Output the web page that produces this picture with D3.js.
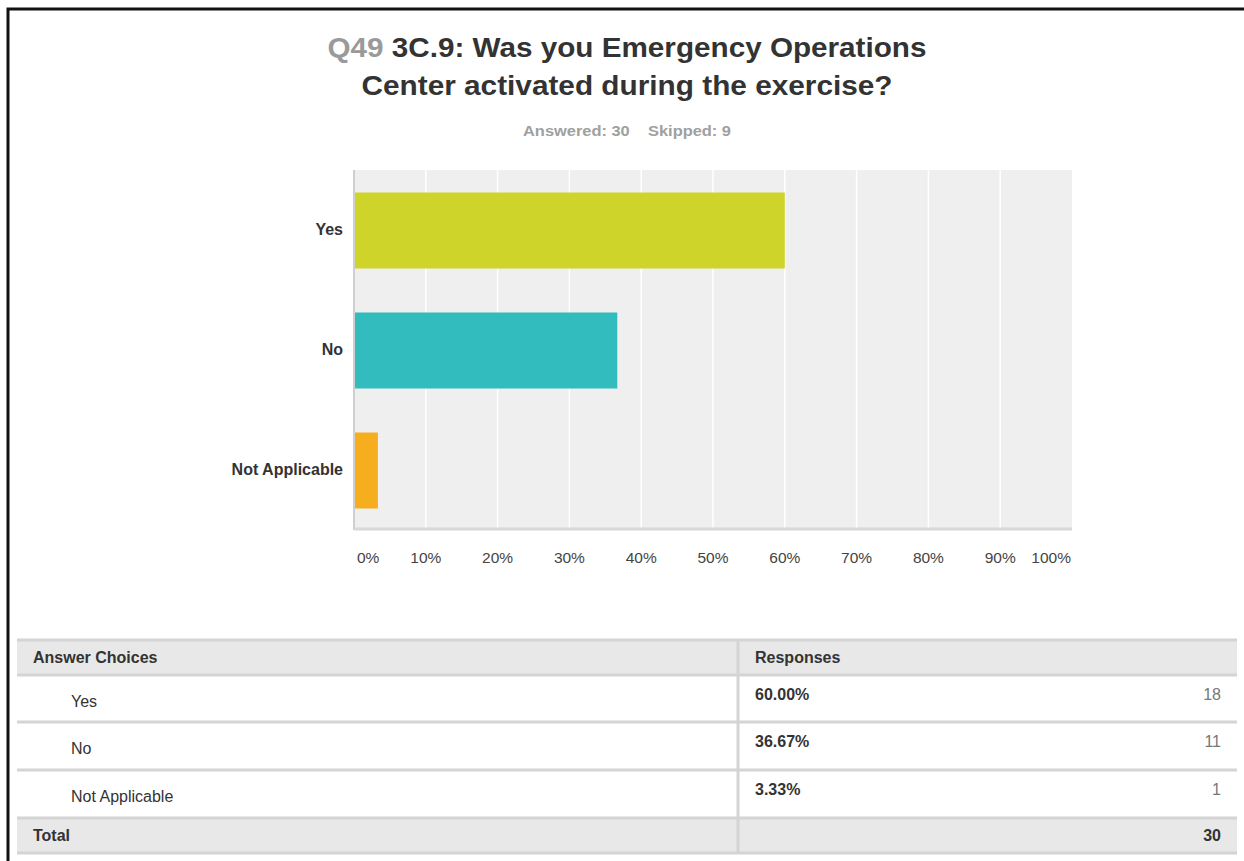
<!DOCTYPE html>
<html>
<head>
<meta charset="utf-8">
<script src="https://cdn.jsdelivr.net/npm/d3@7"></script>
<style>
  html, body { margin: 0; padding: 0; background: #fff; }
  svg { display: block; font-family: "Liberation Sans", Arial, sans-serif; }
</style>
</head>
<body>
<svg id="chart" width="1244" height="861"></svg>
<script>
const categories = ["Yes", "No", "Not Applicable"];
const percents = [60.00, 36.67, 3.33];
const counts = [18, 11, 1];
const colors = ["#cfd42a", "#32bcbe", "#f7ae1e"];
const tickValues = [0, 10, 20, 30, 40, 50, 60, 70, 80, 90, 100];
const titleQ = "Q49";
const titleLine1 = "3C.9: Was you Emergency Operations";
const titleLine2 = "Center activated during the exercise?";
const answered = 30, skipped = 9;

const svg = d3.select("#chart");

// page frame (top + left edges)
svg.append("path")
  .attr("d", "M8,861 L8,9 L1244,9")
  .attr("fill", "none").attr("stroke", "#111").attr("stroke-width", 3);

// title
const cx = 627;
const t1 = svg.append("text").attr("x", cx).attr("y", 57)
  .attr("text-anchor", "middle").attr("font-size", 27).attr("font-weight", "bold").attr("fill", "#333")
  .attr("textLength", 599).attr("lengthAdjust", "spacingAndGlyphs");
t1.append("tspan").attr("fill", "#9a9a9a").text(titleQ + " ");
t1.append("tspan").text(titleLine1);
svg.append("text").attr("x", cx).attr("y", 95)
  .attr("text-anchor", "middle").attr("font-size", 27).attr("font-weight", "bold").attr("fill", "#333")
  .attr("textLength", 531).attr("lengthAdjust", "spacingAndGlyphs")
  .text(titleLine2);
svg.append("text").attr("x", cx).attr("y", 136)
  .attr("text-anchor", "middle").attr("font-size", 14).attr("font-weight", "bold").attr("fill", "#a0a0a0")
  .attr("xml:space", "preserve")
  .attr("textLength", 208).attr("lengthAdjust", "spacingAndGlyphs")
  .text(`Answered: ${answered}    Skipped: ${skipped}`);

// plot
const pLeft = 354, pRight = 1072, pTop = 170, pBottom = 530;
const x = d3.scaleLinear().domain([0, 100]).range([pLeft, pRight]);
const yb = d3.scaleBand().domain(categories).range([pTop, pBottom]);

svg.append("rect").attr("x", pLeft).attr("y", pTop).attr("width", pRight - pLeft).attr("height", pBottom - pTop)
  .attr("fill", "#efefef");

svg.append("g").selectAll("line").data(tickValues.slice(1, -1)).join("line")
  .attr("x1", d => x(d)).attr("x2", d => x(d)).attr("y1", pTop).attr("y2", pBottom)
  .attr("stroke", "#fff").attr("stroke-width", 1.5);

svg.append("g").selectAll("rect").data(categories).join("rect")
  .attr("x", x(0) + 1)
  .attr("y", d => yb(d) + yb.bandwidth() / 2 - 37.5)
  .attr("height", 76)
  .attr("width", (d, i) => x(percents[i]) - x(0) - 1)
  .attr("fill", (d, i) => colors[i]);

// axes lines
svg.append("line").attr("x1", pLeft).attr("x2", pLeft).attr("y1", pTop).attr("y2", pBottom)
  .attr("stroke", "#cfcfcf").attr("stroke-width", 2);
svg.append("line").attr("x1", pLeft).attr("x2", pRight).attr("y1", pBottom - 1).attr("y2", pBottom - 1)
  .attr("stroke", "#d8d8d8").attr("stroke-width", 3);

// category labels
svg.append("g").selectAll("text").data(categories).join("text")
  .attr("x", 343).attr("y", d => yb(d) + yb.bandwidth() / 2 + 5)
  .attr("text-anchor", "end").attr("font-size", 16).attr("font-weight", "bold").attr("fill", "#333")
  .text(d => d);

// tick labels
svg.append("g").selectAll("text").data(tickValues).join("text")
  .attr("x", d => d === 0 ? x(d) + 3 : d === 100 ? x(d) - 1 : x(d))
  .attr("y", 563)
  .attr("text-anchor", d => d === 0 ? "start" : d === 100 ? "end" : "middle")
  .attr("font-size", 15.5).attr("fill", "#444")
  .text(d => d + "%");

// table
const tl = 17, tr = 1237, split = 738;
const rowsY = [675, 722, 770, 818];
const headerTop = 640, totalBottom = 853;
const gridColor = "#d4d4d4";
svg.append("rect").attr("x", tl).attr("y", headerTop).attr("width", tr - tl).attr("height", rowsY[0] - headerTop).attr("fill", "#e8e8e8");
svg.append("rect").attr("x", tl).attr("y", rowsY[3]).attr("width", tr - tl).attr("height", totalBottom - rowsY[3]).attr("fill", "#e8e8e8");
svg.append("g").selectAll("line").data([headerTop, ...rowsY, totalBottom]).join("line")
  .attr("x1", tl).attr("x2", tr).attr("y1", d => d).attr("y2", d => d)
  .attr("stroke", gridColor).attr("stroke-width", 3);
svg.append("line").attr("x1", split).attr("x2", split).attr("y1", headerTop).attr("y2", totalBottom)
  .attr("stroke", gridColor).attr("stroke-width", 3);

svg.append("text").attr("x", 33).attr("y", 663).attr("font-size", 16).attr("font-weight", "bold").attr("fill", "#333").text("Answer Choices");
svg.append("text").attr("x", 755).attr("y", 663).attr("font-size", 16).attr("font-weight", "bold").attr("fill", "#333").text("Responses");

svg.append("g").selectAll("text").data(categories).join("text")
  .attr("x", 71).attr("y", (d, i) => rowsY[i] + 32)
  .attr("font-size", 16).attr("fill", "#333").text(d => d);
svg.append("g").selectAll("text").data(percents).join("text")
  .attr("x", 755).attr("y", (d, i) => rowsY[i] + 25)
  .attr("font-size", 16).attr("font-weight", "bold").attr("fill", "#333").text(d => d.toFixed(2) + "%");
svg.append("g").selectAll("text").data(counts).join("text")
  .attr("x", 1221).attr("y", (d, i) => rowsY[i] + 25)
  .attr("text-anchor", "end").attr("font-size", 16).attr("fill", "#777").text(d => d);

svg.append("text").attr("x", 33).attr("y", 841).attr("font-size", 16).attr("font-weight", "bold").attr("fill", "#333").text("Total");
svg.append("text").attr("x", 1221).attr("y", 841).attr("text-anchor", "end").attr("font-size", 16).attr("font-weight", "bold").attr("fill", "#333")
  .text(d3.sum(counts));
</script>
</body>
</html>
